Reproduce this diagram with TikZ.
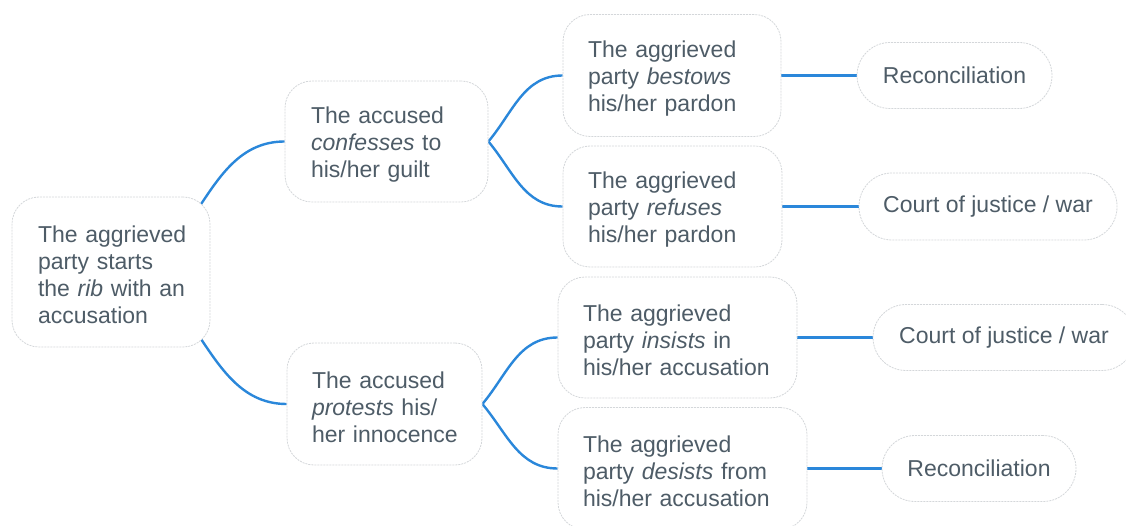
\documentclass[tikz,border=0pt]{standalone}
\usepackage{fontspec}
\setmainfont{Liberation Sans}
\usetikzlibrary{backgrounds}
\definecolor{txtc}{RGB}{78,92,103}
\definecolor{linec}{RGB}{42,135,218}
\definecolor{bordc}{RGB}{212,215,218}
\newcommand{\topstrut}{\rule{0pt}{23pt}}
\begin{document}
\begin{tikzpicture}[x=1pt,y=1pt,
  box/.style={draw=bordc, fill=white, line width=0.8pt, dash pattern=on 2pt off 1pt,
    rounded corners=27pt, font={\fontsize{23}{27}\selectfont\hyphenpenalty=10000\exhyphenpenalty=10000\relax}, text=txtc,
    align=left, inner ysep=0pt},
  leaf/.style={box, rounded corners=33pt, align=center, inner xsep=0pt},
  conn/.style={draw=linec, line width=2.4pt}]
\useasboundingbox (0,0) rectangle (1126,525);
% level 1
\node[box, text width=146pt, inner xsep=26pt, minimum height=150pt] (root) at (111,253)
  {\topstrut\mbox{The aggrieved}\\party~starts\\the~\textit{rib}~with~an\\accusation};
% level 2
\node[box, text width=151pt, inner xsep=26pt, minimum height=121pt] (conf) at (386.5,383.5)
  {\topstrut The~accused\\\textit{confesses}~to\\his/her~guilt};
\node[box, text width=145pt, inner xsep=25pt, minimum height=122pt] (prot) at (384.5,121)
  {\topstrut The~accused\\\textit{protests}~his/\\\mbox{her innocence}};
% level 3
\node[box, text width=168pt, inner xsep=25pt, minimum height=122pt] (best) at (672,449.5)
  {\topstrut The~aggrieved\\party~\textit{bestows}\\his/her~pardon};
\node[box, text width=169pt, inner xsep=25pt, minimum height=121pt] (ref) at (672.5,318.5)
  {\topstrut The~aggrieved\\party~\textit{refuses}\\his/her~pardon};
\node[box, text width=189pt, inner xsep=25pt, minimum height=121pt] (ins) at (677.5,187.5)
  {\topstrut The~aggrieved\\party~\textit{insists}~in\\his/her~accusation};
\node[box, text width=199pt, inner xsep=25pt, minimum height=122pt] (des) at (682.5,56.5)
  {\topstrut The~aggrieved\\party~\textit{desists}~from\\his/her~accusation};
% level 4
\node[leaf, minimum width=195pt, minimum height=66pt] (rec1) at (954.5,449.5) {Reconciliation};
\node[leaf, minimum width=258pt, minimum height=67pt] (court1) at (988,318.5) {Court of justice / war};
\node[leaf, minimum width=262pt, minimum height=66pt] (court2) at (1004,187.5) {Court of justice / war};
\node[leaf, minimum width=194pt, minimum height=66pt] (rec2) at (979,56.5) {Reconciliation};
% connectors
\begin{scope}[on background layer]
\draw[conn] (root.center) .. controls +(89,0) and +(-85,0) .. (conf.west);
\draw[conn] (root.center) .. controls +(89,0) and +(-85,0) .. (prot.west);
\draw[conn] (conf.east) to[out=50,in=180] (best.west);
\draw[conn] (conf.east) to[out=-50,in=180] (ref.west);
\draw[conn] (prot.east) to[out=50,in=180] (ins.west);
\draw[conn] (prot.east) to[out=-50,in=180] (des.west);
\draw[conn] (best.east) -- (rec1.west);
\draw[conn] (ref.east) -- (court1.west);
\draw[conn] (ins.east) -- (court2.west);
\draw[conn] (des.east) -- (rec2.west);
\end{scope}
\end{tikzpicture}
\end{document}
